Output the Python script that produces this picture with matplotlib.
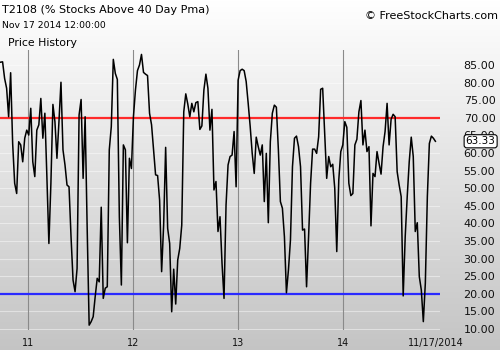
import numpy as np
import pandas as pd
import matplotlib
matplotlib.use("Agg")
import matplotlib.pyplot as plt

# T2108 weekly readings (Sep 2010 -> Nov 17 2014)
values = [
    85.8, 85.9, 81.2, 78.4, 70.3, 82.8, 62.7, 51.4, 48.5, 63.2,
    62.3, 57.5, 64.2, 66.5, 65.1, 72.7, 57.5, 53.3, 66.5, 68.0,
    75.5, 64.2, 71.3, 53.3, 34.3, 51.4, 73.8, 68.9, 58.5, 68.9,
    80.1, 60.9, 56.6, 50.9, 50.4, 36.2, 23.9, 20.6, 27.2, 70.8,
    75.2, 52.8, 70.3, 39.1, 11.1, 12.1, 13.5, 19.2, 24.4, 23.4,
    44.6, 18.7, 21.6, 22.0, 60.9, 67.5, 86.6, 82.6, 80.9, 41.9,
    22.5, 62.3, 60.9, 34.5, 58.5, 55.6, 70.3, 77.9, 83.4, 85.0,
    88.0, 82.9, 82.4, 82.0, 71.3, 68.0, 60.9, 53.8, 53.6, 46.6,
    26.3, 39.5, 61.6, 38.6, 34.3, 14.9, 27.0, 17.1, 29.6, 32.9,
    39.5, 71.7, 76.8, 73.9, 70.3, 74.1, 71.7, 74.3, 74.6, 66.7,
    67.7, 77.9, 82.4, 78.4, 66.5, 72.4, 49.5, 51.9, 37.7, 41.9,
    28.7, 18.7, 45.2, 56.6, 59.0, 59.4, 66.1, 50.4, 80.7, 83.4,
    83.8, 83.4, 80.3, 74.1, 67.5, 59.9, 54.2, 64.5, 61.8, 59.4,
    62.3, 46.2, 59.9, 40.2, 63.2, 71.3, 73.6, 73.0, 60.9, 46.2,
    44.3, 36.2, 20.3, 26.8, 35.3, 56.1, 64.2, 64.8, 61.8, 56.1,
    38.1, 38.4, 22.0, 36.2, 51.4, 61.1, 61.1, 59.9, 64.6, 78.1,
    78.4, 65.6, 52.8, 59.0, 56.1, 56.8, 50.0, 32.0, 52.3, 60.4,
    62.3, 68.9, 67.3, 51.4, 47.9, 48.5, 62.3, 63.9, 71.7, 74.9,
    62.3, 66.5, 60.4, 61.8, 39.3, 54.2, 53.3, 60.4, 57.1, 54.0,
    61.8, 66.1, 74.1, 62.3, 69.6, 71.0, 70.3, 54.7, 50.9, 47.6,
    19.4, 36.2, 47.6, 57.5, 64.5, 59.0, 37.7, 40.2, 24.9, 21.1,
    12.1, 23.0, 47.6, 62.7, 64.8, 64.2, 63.33,
]
dates = pd.date_range(end="2014-11-17", periods=len(values), freq="7D")

upper_level = 70
lower_level = 20
year_ticks = ["2011-01-01", "2012-01-01", "2013-01-01", "2014-01-01"]
year_labels = ["11", "12", "13", "14"]
last_label = "11/17/2014"
y_ticks = np.arange(10, 90, 5)

fig = plt.figure(figsize=(5, 3.5), dpi=100)

# background gradient over the whole figure
bg = fig.add_axes([0, 0, 1, 1], zorder=0)
grad = np.linspace(1.0, 0.0, 256).reshape(-1, 1)
top_c, bot_c = 1.0, 0.77
shade = bot_c + (top_c - bot_c) * grad
bg.imshow(np.dstack([shade, shade, shade]), aspect="auto", extent=[0, 1, 0, 1])
bg.set_axis_off()

ax = fig.add_axes([0, 20 / 350, 440 / 500, 280 / 350], zorder=1)
ax.patch.set_alpha(0)
for s in ax.spines.values():
    s.set_visible(False)

ax.set_xlim(pd.Timestamp("2010-09-25"), pd.Timestamp("2014-12-03"))
ax.set_ylim(9.72, 89.26)

# faint horizontal grid
for yv in y_ticks:
    ax.axhline(yv, color="white", lw=0.8, alpha=0.45, zorder=1)
# year separators
for d in year_ticks:
    ax.axvline(pd.Timestamp(d), color="#8a8a8a", lw=0.8, zorder=2)

ax.axhline(upper_level, color="#ff2a2a", lw=1.6, zorder=3)
ax.axhline(lower_level, color="#2a2aff", lw=1.6, zorder=3)
ax.plot(dates, values, color="black", lw=1.1, zorder=4)

xt = [pd.Timestamp(d) for d in year_ticks] + [dates[-1]]
ax.set_xticks(xt)
ax.set_xticklabels(year_labels + [last_label])
ax.tick_params(axis="x", length=0, pad=6, labelsize=7, colors="#111111")

ax.yaxis.tick_right()
ax.set_yticks(y_ticks)
ax.set_yticklabels([f"{v:.2f}" for v in y_ticks])
ax.tick_params(axis="y", length=0, pad=17, labelsize=8, colors="#111111")

# current value box
ax.annotate(f"{values[-1]:.2f}", xy=(1, values[-1]), xycoords=("axes fraction", "data"),
            xytext=(18.5, 0), textcoords="offset points", va="center", ha="left",
            fontsize=7.5, color="black", annotation_clip=False,
            bbox=dict(boxstyle="round,pad=0.15,rounding_size=0.25", fc="white", ec="black", lw=0.8))

fig.text(2 / 500, 1 - 10 / 350, "T2108 (% Stocks Above 40 Day Pma)", fontsize=8,
         va="center", ha="left", color="black")
fig.text(2 / 500, 1 - 25 / 350, "Nov 17 2014 12:00:00", fontsize=6.7,
         va="center", ha="left", color="black")
fig.text(8 / 500, 1 - 43 / 350, "Price History", fontsize=7.8,
         va="center", ha="left", color="black")
fig.text(498 / 500, 1 - 16 / 350, "\u00a9 FreeStockCharts.com", fontsize=8,
         va="center", ha="right", color="black")

fig.savefig("out.png", dpi=100)
